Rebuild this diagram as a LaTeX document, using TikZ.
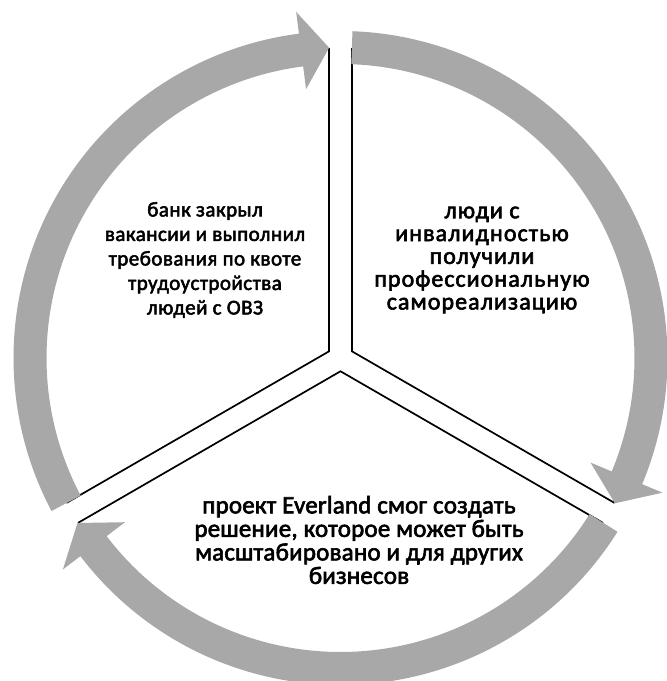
\documentclass[tikz,border=0pt]{standalone}
\usepackage{fontspec}
\setmainfont{Carlito}
\newfontfamily\capleft[LetterSpace=2.2,FakeBold=2.5]{Carlito}
\newfontfamily\capright[LetterSpace=4.4,FakeBold=2.5]{Carlito}
\newfontfamily\capbottom[LetterSpace=0.8,FakeBold=2.5]{Carlito}
\definecolor{arcgray}{RGB}{168,168,168}
\begin{document}
\begin{tikzpicture}[x=1pt,y=1pt,
  spokeline/.style={line width=1.7pt, black, line join=miter},
  arcarrow/.style={fill=arcgray, draw=none},
  caption/.style={align=center, inner sep=0pt}]
\useasboundingbox (0,0) rectangle (667,681);
\coordinate (C) at (340.5,323);
\begin{scope}[shift={(C)}]
  % spoke edges
  \coordinate (TL) at (-11.5,309.8);
  \coordinate (TR) at (11.5,309.8);
  \coordinate (JL) at (-11.5,6.64);
  \coordinate (JR) at (11.5,6.64);
  \coordinate (JB) at (0,-13.28);
  \coordinate (RU) at (274,-144.9);
  \coordinate (RL) at (262.5,-164.9);
  \coordinate (LU) at (-274,-144.9);
  \coordinate (LL) at (-262.5,-164.9);
  \draw[spokeline] (TL) -- (JL) -- (LU);
  \draw[spokeline] (TR) -- (JR) -- (RU);
  \draw[spokeline] (LL) -- (JB) -- (RL);
  % circular arrows
  \foreach \sa/\ta in {87.9/-27.9, -32.1/-147.9, 207.9/92.1}{
    \pgfmathsetmacro\eb{\ta+5.2}
    \fill[arcarrow] (\sa:327) arc[start angle=\sa, end angle=\eb, radius=327]
      -- (\eb:349) -- (\ta:310.5) -- (\eb:271) -- (\eb:294)
      arc[start angle=\eb, end angle=\sa, radius=294] -- cycle;
  }
\end{scope}
\node[caption, font=\capleft\fontsize{21}{24.5}\selectfont] (left) at (205,421) {банк закрыл\\вакансии и выполнил\\требования по квоте\\трудоустройства\\людей с ОВЗ};
\node[caption, font=\capright\fontsize{24}{22.8}\selectfont] (right) at (482,421) {люди с\\инвалидностью\\получили\\профессиональную\\самореализацию};
\node[caption, font=\capbottom\fontsize{25}{23.5}\selectfont] (bottom) at (359,141) {проект Everland смог создать\\решение, которое может быть\\масштабировано и для других\\бизнесов};
\end{tikzpicture}
\end{document}
